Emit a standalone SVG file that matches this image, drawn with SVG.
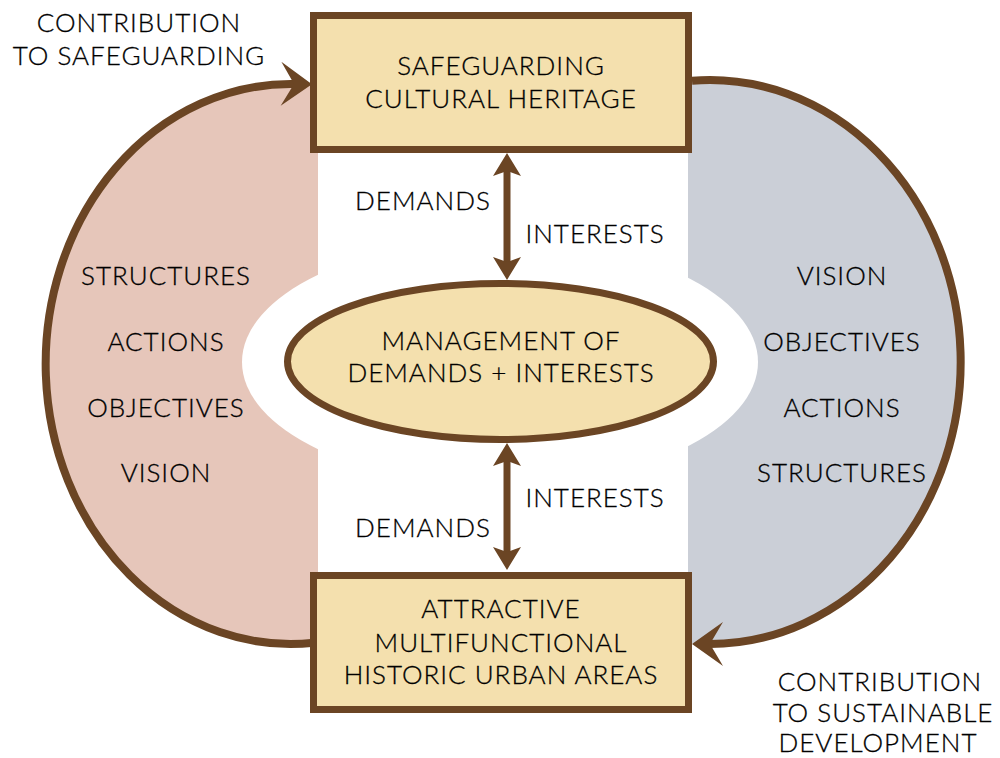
<svg xmlns="http://www.w3.org/2000/svg" width="1000" height="758" viewBox="0 0 1000 758">
<style>
text{font-family:Lato,"Open Sans","DejaVu Sans",sans-serif;font-size:26px;font-weight:300;letter-spacing:1px;fill:#000;stroke:#000;stroke-width:0.3px;text-anchor:middle}
.box{fill:#F4E0AE;stroke:#6B4524;stroke-width:7}
.arc{fill:none;stroke:#6B4524;stroke-width:8}
.link{fill:none;stroke:#6B4524;stroke-width:7}
</style>
<defs>
<marker id="big" markerUnits="userSpaceOnUse" viewBox="-32 -24 34 48" refX="-18" refY="0" markerWidth="34" markerHeight="48" orient="auto">
<path d="M0 0 L-31 -22 L-18 0 L-31 22 Z" fill="#6B4524"/>
</marker>
<marker id="small" markerUnits="userSpaceOnUse" viewBox="-24 -16 26 32" refX="-14" refY="0" markerWidth="26" markerHeight="32" orient="auto-start-reverse">
<path d="M0 0 L-23 -14 L-18 0 L-23 14 Z" fill="#6B4524"/>
</marker>
</defs>
<g id="backgrounds">
<path d="M318 86 A245 280 0 1 0 318 642 Z" fill="#E6C6BA"/>
<path d="M688 81 A251 282 0 1 1 688 643 Z" fill="#CBCFD7"/>
<ellipse cx="500" cy="362" rx="258" ry="123" fill="#fff"/>
</g>
<g id="connectors">
<path class="arc" d="M314 642.7 A245 280 0 1 1 294 84" marker-end="url(#big)"/>
<path class="arc" d="M692 80.7 A251 282 0 1 1 710 644" marker-end="url(#big)"/>
<path class="link" d="M507 167 L507 266" marker-start="url(#small)" marker-end="url(#small)"/>
<path class="link" d="M507 457 L507 556" marker-start="url(#small)" marker-end="url(#small)"/>
</g>
<g id="safeguarding">
<rect class="box" x="313.5" y="15.5" width="375" height="134"/>
<text x="501" y="75">SAFEGUARDING</text>
<text x="501" y="108">CULTURAL HERITAGE</text>
</g>
<g id="management">
<ellipse class="box" cx="500.5" cy="361.5" rx="213" ry="78"/>
<text x="501" y="350">MANAGEMENT OF</text>
<text x="501" y="382">DEMANDS + INTERESTS</text>
</g>
<g id="urban-areas">
<rect class="box" x="313.5" y="575.5" width="375" height="134"/>
<text x="501" y="618">ATTRACTIVE</text>
<text x="501" y="652">MULTIFUNCTIONAL</text>
<text x="501" y="684">HISTORIC URBAN AREAS</text>
</g>
<g id="labels">
<text x="423" y="210">DEMANDS</text>
<text x="595" y="243">INTERESTS</text>
<text x="595" y="507">INTERESTS</text>
<text x="423" y="537">DEMANDS</text>
<text x="166" y="285">STRUCTURES</text>
<text x="166" y="351">ACTIONS</text>
<text x="166" y="417">OBJECTIVES</text>
<text x="166" y="482">VISION</text>
<text x="842" y="285">VISION</text>
<text x="842" y="351">OBJECTIVES</text>
<text x="842" y="417">ACTIONS</text>
<text x="842" y="482">STRUCTURES</text>
<text x="139" y="32">CONTRIBUTION</text>
<text x="139" y="65">TO SAFEGUARDING</text>
<text x="880" y="691">CONTRIBUTION</text>
<text x="883" y="722">TO SUSTAINABLE</text>
<text x="878" y="752">DEVELOPMENT</text>
</g>
</svg>
